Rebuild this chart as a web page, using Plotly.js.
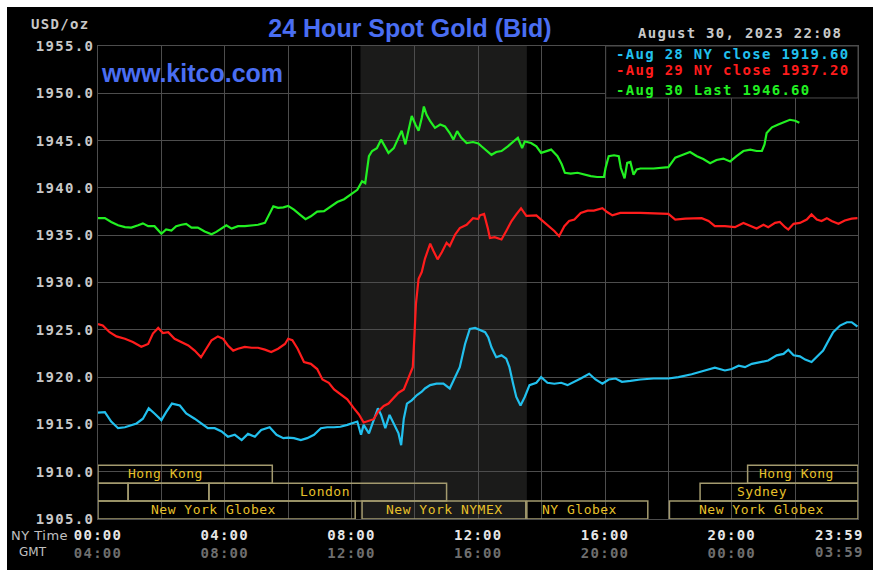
<!DOCTYPE html>
<html>
<head>
<meta charset="utf-8">
<script src="https://cdn.plot.ly/plotly-3.0.1.min.js"></script>
<style>
html, body { margin: 0; padding: 0; background: #ffffff; width: 881px; height: 575px; overflow: hidden; }
#chart { position: absolute; left: 7px; top: 7px; width: 866px; height: 563px; }
text[style*="font-size: 14px"] { letter-spacing: 1.3px; }
text[style*="font-size: 13px"] { letter-spacing: 0.5px; }
</style>
</head>
<body>
<div id="chart"></div>
<script>
// ---- data (time in minutes after 00:00 NY time) ----
const greenT = [0,13,25,38,51,63,76,85,95,107,120,129,139,148,158,167,177,189,202,215,224,234,243,253,265,278,291,303,316,325,332,341,351,360,371,384,393,403,415,428,440,453,466,478,491,500,506,513,519,528,536,541,550,560,569,575,582,588,594,601,607,613,617,622,629,638,648,657,666,673,680,688,698,710,720,726,736,745,754,764,776,786,795,803,808,820,830,839,848,858,870,878,884,895,908,920,933,945,958,961,967,977,986,990,997,1002,1008,1014,1020,1027,1052,1080,1093,1105,1121,1134,1146,1159,1171,1184,1197,1209,1222,1235,1247,1257,1262,1266,1276,1288,1298,1310,1320,1328];
const greenV = [1936.8,1936.8,1936.4,1936.05,1935.85,1935.8,1936.05,1936.25,1935.95,1935.95,1935.15,1935.6,1935.5,1935.95,1936.1,1936.2,1935.8,1935.8,1935.4,1935.1,1935.35,1935.7,1936.05,1935.7,1935.95,1935.95,1936.05,1936.1,1936.3,1937.2,1938.05,1937.9,1937.95,1938.1,1937.7,1937.1,1936.7,1937.0,1937.5,1937.55,1938.05,1938.5,1938.8,1939.3,1939.8,1940.7,1940.5,1943.35,1943.9,1944.2,1945.1,1944.6,1943.7,1944.2,1945.3,1946.05,1944.6,1946.3,1947.6,1946.7,1946.05,1947.4,1948.6,1947.75,1947.05,1946.35,1946.7,1946.5,1945.8,1945.1,1946.0,1945.3,1944.75,1944.85,1944.7,1944.4,1943.9,1943.5,1943.8,1943.9,1944.4,1944.9,1945.3,1944.2,1944.9,1944.75,1944.4,1943.7,1943.9,1944.05,1943.35,1942.5,1941.6,1941.5,1941.6,1941.4,1941.25,1941.15,1941.15,1942.1,1943.35,1943.45,1943.35,1942.1,1941.0,1942.65,1942.75,1941.4,1941.95,1942.05,1942.05,1942.2,1943.2,1943.45,1943.8,1943.35,1943.05,1942.6,1942.95,1943.1,1942.8,1943.35,1943.9,1944.05,1943.9,1943.9,1944.6,1945.8,1946.4,1946.7,1946.9,1947.2,1947.1,1946.9];

const redT = [0,9,22,35,51,66,82,95,104,114,123,133,145,158,171,183,195,205,215,227,237,246,256,265,278,291,303,316,328,341,354,360,368,378,390,403,415,425,437,447,459,472,484,494,503,513,522,531,541,550,560,569,579,588,596,599,602,607,613,619,629,635,643,651,660,666,676,685,698,710,720,723,731,738,742,751,764,773,783,792,801,811,820,830,839,851,864,873,883,892,902,914,927,939,955,964,974,989,1027,1080,1093,1112,1143,1156,1168,1187,1206,1222,1235,1247,1260,1269,1282,1291,1301,1307,1317,1329,1342,1351,1361,1370,1380,1389,1402,1414,1427,1438];
const redV = [1925.6,1925.45,1924.75,1924.3,1924.05,1923.7,1923.2,1923.5,1924.6,1925.2,1924.65,1924.75,1924.05,1923.7,1923.35,1922.8,1922.1,1923.0,1923.9,1924.3,1924.05,1923.35,1922.8,1923.0,1923.2,1923.1,1923.1,1922.9,1922.65,1923.0,1923.5,1924.05,1923.9,1923.0,1921.6,1921.4,1920.85,1919.75,1919.4,1918.7,1918.2,1917.65,1916.75,1916.05,1915.2,1915.35,1915.55,1916.4,1916.95,1917.2,1917.85,1918.35,1918.7,1919.95,1921.05,1924.2,1927.75,1930.4,1931.1,1932.5,1934.1,1933.35,1932.45,1933.2,1934.2,1933.85,1935.05,1935.75,1936.1,1936.8,1936.7,1937.1,1937.25,1935.75,1934.7,1934.8,1934.55,1935.45,1936.5,1937.2,1937.85,1937.05,1937.05,1937.1,1936.65,1936.1,1935.45,1934.9,1935.95,1936.5,1936.65,1937.35,1937.6,1937.6,1937.85,1937.45,1937.1,1937.35,1937.35,1937.25,1936.65,1936.75,1936.8,1936.5,1935.95,1935.95,1935.85,1936.3,1935.95,1935.7,1936.1,1935.85,1936.3,1936.4,1935.85,1935.6,1936.2,1936.3,1936.65,1937.2,1936.65,1936.5,1936.8,1936.5,1936.2,1936.55,1936.75,1936.8];

const cyanT = [0,13,25,38,51,63,73,85,96,107,120,129,140,155,167,183,196,208,221,234,246,259,272,284,297,309,325,338,351,360,371,384,396,409,422,434,447,459,472,481,491,498,503,513,522,530,536,544,552,560,569,574,579,585,594,604,613,619,629,641,654,666,676,685,695,704,714,723,733,739,745,754,764,773,779,786,792,800,808,817,830,839,851,864,877,889,902,914,930,942,955,967,980,992,1008,1027,1052,1080,1099,1124,1149,1168,1187,1200,1213,1225,1238,1254,1269,1285,1298,1307,1317,1329,1339,1351,1364,1373,1383,1392,1405,1418,1427,1438];
const cyanV = [1916.25,1916.3,1915.3,1914.6,1914.7,1914.95,1915.1,1915.6,1916.7,1916.15,1915.45,1916.3,1917.2,1917.0,1916.15,1915.6,1915.1,1914.6,1914.6,1914.25,1913.7,1913.9,1913.35,1914.0,1913.7,1914.4,1914.7,1913.9,1913.55,1913.6,1913.55,1913.35,1913.55,1913.9,1914.6,1914.7,1914.7,1914.75,1914.95,1915.1,1915.3,1913.9,1914.95,1914.05,1915.45,1916.7,1916.0,1914.6,1916.0,1915.1,1914.05,1912.8,1915.6,1917.2,1917.55,1918.1,1918.45,1918.8,1919.15,1919.3,1919.3,1918.8,1920.0,1921.05,1923.5,1925.1,1925.2,1924.95,1924.75,1924.2,1923.15,1922.1,1922.3,1921.95,1921.05,1919.3,1917.9,1917.0,1917.9,1919.15,1919.4,1920.0,1919.4,1919.3,1919.4,1919.15,1919.5,1919.85,1920.35,1919.75,1919.3,1919.75,1919.85,1919.5,1919.6,1919.75,1919.85,1919.85,1920.0,1920.3,1920.7,1921.0,1920.7,1920.85,1921.2,1921.05,1921.4,1921.6,1921.75,1922.3,1922.45,1922.9,1922.3,1922.2,1921.85,1921.6,1922.3,1922.8,1923.85,1924.75,1925.45,1925.8,1925.8,1925.35];

const seriesNames = ['Aug 28 NY close 1919.60', 'Aug 29 NY close 1937.20', 'Aug 30 Last 1946.60'];

// x ticks: every 2 h for grid, label every 4 h (last label 23:59 drawn separately, right-aligned)
const xTickVals = [0,120,240,360,480,600,720,840,960,1080,1200,1320,1439];
const nyLabels  = ['00:00','','04:00','','08:00','','12:00','','16:00','','20:00','',''];
const gmtLabels = ['04:00','','08:00','','12:00','','16:00','','20:00','','00:00','',''];
const lastNY = '23:59', lastGMT = '03:59';

// trading sessions (minutes), row 0 = top
const sessionLabel = ['Hong Kong','Hong Kong','','','London','Sydney','New York Globex','New York NYMEX','NY Globex','New York Globex'];
const sessionStart = [0,1230,0,57,210,1140,0,500,812,1082];
const sessionEnd   = [330,1439,57,210,660,1439,487,810,1041,1439];
const sessionRow   = [0,0,1,1,1,1,2,2,2,2];
const sessionTextX = [128,1322,null,null,430,1257,218,656,911,1257];
const nymexShade = [497, 812];

// ---- styling ----
const GRID = '#4d4d4d';
const COLORS = ['#22c0ee', '#ff1c1c', '#22f022'];
const MONO = 'DejaVu Sans Mono';
const BOX = '#a39a6e';
const GOLD = '#e6c02a';
const GMTCOL = '#6e6e6e';

const traces = [
  {x: cyanT, y: cyanV, name: seriesNames[0], color: COLORS[0]},
  {x: redT, y: redV, name: seriesNames[1], color: COLORS[1]},
  {x: greenT, y: greenV, name: seriesNames[2], color: COLORS[2]}
].map(s => ({x: s.x, y: s.y, name: s.name, type: 'scatter', mode: 'lines',
  line: {color: s.color, width: 2.2}, showlegend: false, hoverinfo: 'skip'}));

const rowH = 1.893;
const shapes = [{type: 'rect', xref: 'x', yref: 'paper', x0: nymexShade[0], x1: nymexShade[1], y0: 0, y1: 1,
  fillcolor: '#1b1b1a', line: {width: 0}, layer: 'below'}];
const annotations = [];
for (let i = 0; i < sessionLabel.length; i++) {
  const y0 = 1905 + (2 - sessionRow[i]) * rowH;
  shapes.push({type: 'rect', xref: 'x', yref: 'y', x0: sessionStart[i], x1: sessionEnd[i], y0: y0, y1: y0 + rowH,
    fillcolor: 'rgba(0,0,0,0)', line: {color: BOX, width: 1.5}, layer: 'above'});
  if (sessionLabel[i]) {
    annotations.push({xref: 'x', yref: 'y', x: sessionTextX[i], y: y0 + rowH / 2 + 0.1, text: sessionLabel[i],
      showarrow: false, xanchor: 'center', yanchor: 'middle', borderpad: 0,
      font: {family: MONO, size: 13, color: GOLD}});
  }
}
// legend box
shapes.push({type: 'rect', xref: 'paper', yref: 'paper', x0: 0.668, x1: 1.0, y0: 0.8901, y1: 1.0,
  fillcolor: '#000000', line: {color: GRID, width: 1}, layer: 'above'});
const legY = [0.9839, 0.9484, 0.9076];
for (let i = 0; i < 3; i++) {
  annotations.push({xref: 'paper', yref: 'paper', x: 0.680, y: legY[i], text: '-' + seriesNames[i],
    showarrow: false, xanchor: 'left', yanchor: 'middle', borderpad: 0,
    font: {family: MONO, size: 14, color: COLORS[i], weight: 'bold'}});
}
annotations.push({xref: 'paper', yref: 'paper', x: 0.9803, y: 1.0269, text: 'August 30, 2023 22:08',
  showarrow: false, xanchor: 'right', yanchor: 'middle', borderpad: 0,
  font: {family: MONO, size: 14, color: '#c8c8c8', weight: 'bold'}});
annotations.push({xref: 'paper', yref: 'paper', x: -0.0105, y: 1.0459, text: 'USD/oz',
  showarrow: false, xanchor: 'right', yanchor: 'middle', borderpad: 0,
  font: {family: MONO, size: 14, color: '#c8c8c8', weight: 'bold'}});
annotations.push({xref: 'paper', yref: 'paper', x: 0.0026, y: 0.9423, text: 'www.kitco.com',
  showarrow: false, xanchor: 'left', yanchor: 'middle', borderpad: 0,
  font: {family: 'Liberation Sans, Arial, sans-serif', size: 25, color: '#4a6ef2', weight: 'bold'}});
annotations.push({xref: 'paper', yref: 'paper', x: -0.0776, y: -0.0345, text: 'NY Time',
  showarrow: false, xanchor: 'center', yanchor: 'middle', borderpad: 0,
  font: {family: 'DejaVu Sans', size: 13, color: '#c0c0c0'}});
annotations.push({xref: 'paper', yref: 'paper', x: -0.0849, y: -0.0704, text: 'GMT',
  showarrow: false, xanchor: 'center', yanchor: 'middle', borderpad: 0,
  font: {family: 'DejaVu Sans', size: 12, color: '#c0c0c0'}});
annotations.push({xref: 'paper', yref: 'paper', x: 1.0095, y: -0.0345, text: lastNY,
  showarrow: false, xanchor: 'right', yanchor: 'middle', borderpad: 0,
  font: {family: MONO, size: 14, color: '#e6e6e6', weight: 'bold'}});
annotations.push({xref: 'paper', yref: 'paper', x: 1.0095, y: -0.0704, text: lastGMT,
  showarrow: false, xanchor: 'right', yanchor: 'middle', borderpad: 0,
  font: {family: MONO, size: 14, color: GMTCOL, weight: 'bold'}});

const tickText = nyLabels.map((t, i) => t ? (t + '<br><span style="color:' + GMTCOL + '">' + gmtLabels[i] + '</span>') : '');

const layout = {
  width: 866, height: 563,
  margin: {l: 91, r: 15, t: 39, b: 51, pad: 0},
  paper_bgcolor: '#000000', plot_bgcolor: 'rgba(0,0,0,0)',
  title: {text: '24 Hour Spot Gold (Bid)', xref: 'paper', x: 0.4105, xanchor: 'center',
    yref: 'container', y: 0.9627, yanchor: 'middle',
    font: {family: 'Liberation Sans, Arial, sans-serif', size: 25, color: '#4a6ef2', weight: 'bold'}},
  xaxis: {range: [0, 1439], tickmode: 'array', tickvals: xTickVals, ticktext: tickText,
    showgrid: true, gridcolor: GRID, gridwidth: 1, zeroline: false,
    showline: true, mirror: true, linecolor: GRID, linewidth: 1, ticks: '', ticklabelstandoff: 3,
    tickfont: {family: MONO, size: 14, color: '#e6e6e6', weight: 'bold'}, fixedrange: true},
  yaxis: {range: [1905, 1955], tick0: 1905, dtick: 5, tickformat: '.1f',
    showgrid: true, gridcolor: GRID, gridwidth: 1, zeroline: false,
    showline: true, mirror: true, linecolor: GRID, linewidth: 1, ticks: '',
    tickfont: {family: MONO, size: 14, color: '#c8c8c8', weight: 'bold'}, fixedrange: true},
  shapes: shapes, annotations: annotations, showlegend: false
};

Plotly.newPlot('chart', traces, layout, {staticPlot: true, displayModeBar: false});
</script>
</body>
</html>
